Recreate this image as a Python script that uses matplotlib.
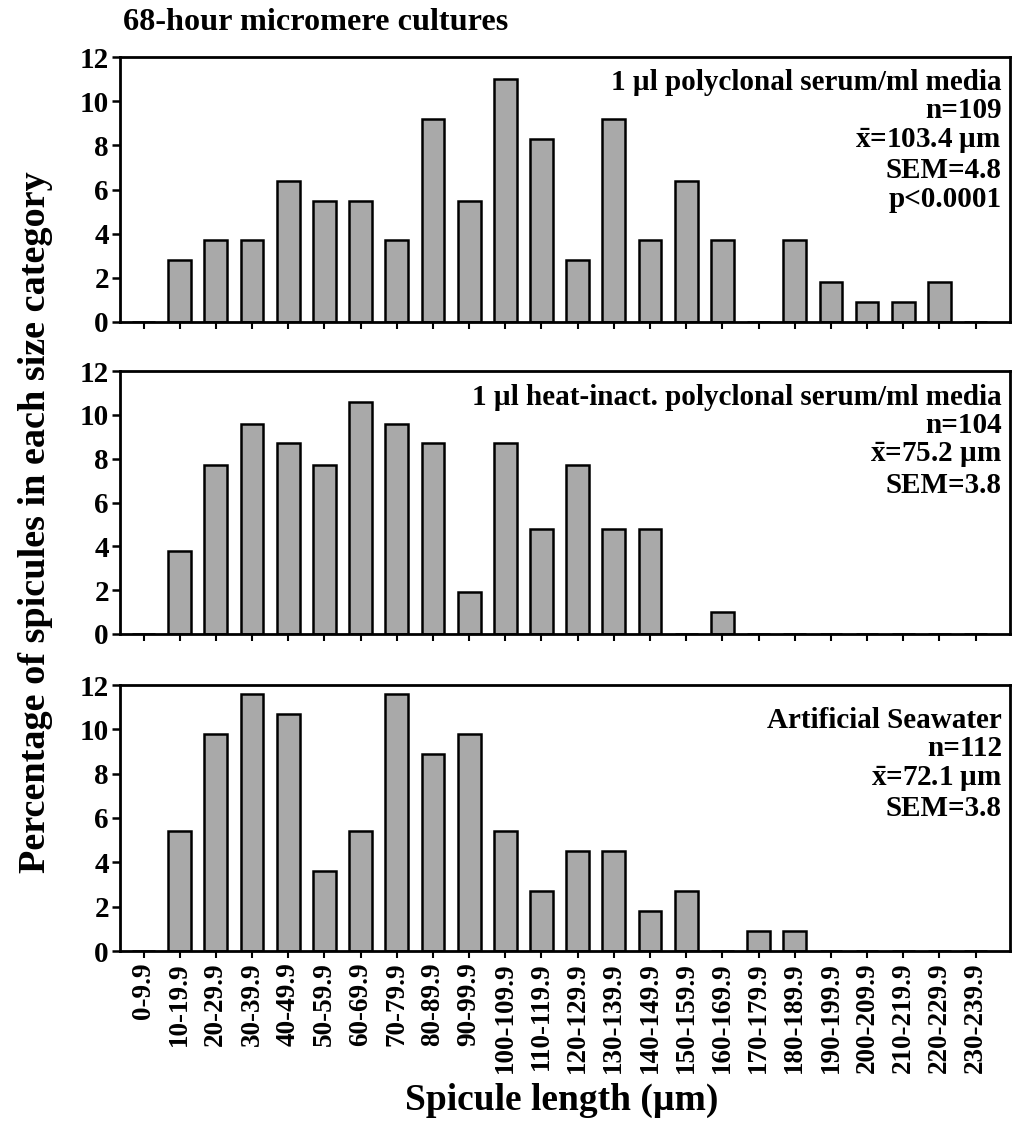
import matplotlib
matplotlib.use("Agg")
import matplotlib.pyplot as plt
import numpy as np

# size categories (um)
categories = ["0-9.9", "10-19.9", "20-29.9", "30-39.9", "40-49.9", "50-59.9",
              "60-69.9", "70-79.9", "80-89.9", "90-99.9", "100-109.9", "110-119.9",
              "120-129.9", "130-139.9", "140-149.9", "150-159.9", "160-169.9",
              "170-179.9", "180-189.9", "190-199.9", "200-209.9", "210-219.9",
              "220-229.9", "230-239.9"]

# percentage of spicules per category
polyclonal = [0, 2.8, 3.7, 3.7, 6.4, 5.5, 5.5, 3.7, 9.2, 5.5, 11.0, 8.3,
              2.8, 9.2, 3.7, 6.4, 3.7, 0, 3.7, 1.8, 0.9, 0.9, 1.8, 0]
heat_inact = [0, 3.8, 7.7, 9.6, 8.7, 7.7, 10.6, 9.6, 8.7, 1.9, 8.7, 4.8,
              7.7, 4.8, 4.8, 0, 1.0, 0, 0, 0, 0, 0, 0, 0]
seawater = [0, 5.4, 9.8, 11.6, 10.7, 3.6, 5.4, 11.6, 8.9, 9.8, 5.4, 2.7,
            4.5, 4.5, 1.8, 2.7, 0, 0.9, 0.9, 0, 0, 0, 0, 0]

panel_notes = [
    "1 \u00b5l polyclonal serum/ml media\nn=109\n$\\bar{x}$=103.4 \u00b5m\nSEM=4.8\np<0.0001",
    "1 \u00b5l heat-inact. polyclonal serum/ml media\nn=104\n$\\bar{x}$=75.2 \u00b5m\nSEM=3.8",
    "Artificial Seawater\nn=112\n$\\bar{x}$=72.1 \u00b5m\nSEM=3.8",
]
note_y = [0.955, 0.952, 0.918]

plt.rcParams["font.family"] = ["Liberation Serif", "DejaVu Serif"]
plt.rcParams["font.weight"] = "bold"
plt.rcParams["mathtext.fontset"] = "custom"
plt.rcParams["mathtext.rm"] = "Liberation Serif:bold"
plt.rcParams["mathtext.it"] = "Liberation Serif:bold"
plt.rcParams["mathtext.bf"] = "Liberation Serif:bold"

W, H = 1015, 1130
fig = plt.figure(figsize=(W / 100, H / 100), dpi=100)

# axes boxes in pixels: (top, bottom)
boxes = [(57, 322), (371, 634), (685, 951)]
left_px, right_px = 120, 1010

x = np.arange(len(categories))
series = [polyclonal, heat_inact, seawater]

for i, ((top, bot), vals, note, ny) in enumerate(zip(boxes, series, panel_notes, note_y)):
    ax = fig.add_axes([left_px / W, 1 - bot / H, (right_px - left_px) / W, (bot - top) / H])
    ax.bar(x, vals, width=0.63, color="#a9a9a9", edgecolor="black", linewidth=1.8, zorder=2)
    ax.set_xlim(-0.65, len(categories) - 0.05)
    ax.set_ylim(0, 12)
    ax.set_yticks(range(0, 13, 2))
    ax.set_xticks(x)
    for sp in ax.spines.values():
        sp.set_linewidth(2)
    ax.tick_params(axis="y", direction="out", length=6, width=1.8, labelsize=21, pad=2)
    ax.tick_params(axis="x", direction="out", length=5, width=1.5, pad=3)
    if i < 2:
        ax.set_xticklabels([])
    else:
        ax.set_xticklabels(categories, rotation=90, fontsize=19.5)
    ax.text(0.991, ny, note, transform=ax.transAxes, ha="right", va="top",
            fontsize=21, fontweight="bold", linespacing=1.07)

fig.text(123 / W, 1 - 23 / H, "68-hour micromere cultures", ha="left", va="center",
         fontsize=23.2, fontweight="bold")
fig.text(36 / W, 1 - 522 / H, "Percentage of spicules in each size category",
         rotation=90, ha="center", va="center", fontsize=27.5, fontweight="bold")
fig.text(562 / W, 1 - 1100 / H, "Spicule length (\u00b5m)", ha="center", va="center",
         fontsize=27, fontweight="bold")

fig.savefig("out.png", dpi=100, facecolor="white")
